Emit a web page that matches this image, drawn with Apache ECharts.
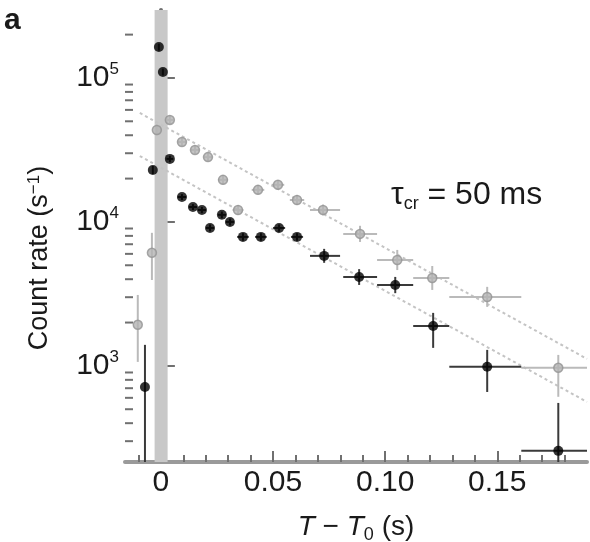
<!DOCTYPE html>
<html>
<head>
<meta charset="utf-8">
<script src="https://cdn.jsdelivr.net/npm/echarts@6/dist/echarts.min.js"></script>
<style>
html, body { margin: 0; padding: 0; background: #fff; }
#main { width: 590px; height: 542px; }
</style>
</head>
<body>
<div id="main"></div>
<script>
// T - T0 (s) and count rate (s^-1)
const blackPts = [
    [-0.0071, 714], [-0.0036, 22970], [-0.0009, 164000], [0.0009, 110000],
    [0.0040, 27400], [0.0094, 14900], [0.0143, 12700], [0.0183, 12100],
    [0.0219, 9080], [0.0272, 11200], [0.0308, 10000], [0.0366, 7870],
    [0.0446, 7870], [0.0527, 9080], [0.0607, 7870], [0.0728, 5810],
    [0.0884, 4150], [0.1045, 3650], [0.1214, 1895], [0.1455, 985],
    [0.1772, 257]
];
// [tLo, tHi, rateLo, rateHi]
const blackErr = [
    [-0.0071, -0.0071, 215, 1400], [-0.0036, -0.0036, 21500, 24500], [-0.0009, -0.0009, 155000, 173000], [0.0009, 0.0009, 104000, 116000],
    [0.0025, 0.0055, 26000, 28800], [0.0075, 0.0113, 14200, 15600], [0.0125, 0.0161, 12100, 13300], [0.0165, 0.0201, 11500, 12700],
    [0.0201, 0.0237, 8600, 9600], [0.0254, 0.0290, 10600, 11800], [0.0290, 0.0326, 9450, 10550], [0.0340, 0.0392, 7400, 8350],
    [0.0420, 0.0472, 7400, 8350], [0.0500, 0.0554, 8550, 9600], [0.0580, 0.0634, 7400, 8350], [0.0665, 0.0799, 5200, 6500],
    [0.0813, 0.0964, 3650, 4700], [0.0964, 0.1125, 3200, 4150], [0.1125, 0.1286, 1334, 2335], [0.1286, 0.1607, 659, 1292],
    [0.1607, 0.1900, 215, 553]
];

const grayPts = [
    [-0.0103, 1930], [-0.0040, 6100], [-0.0018, 43500], [0.0040, 51100],
    [0.0094, 35900], [0.0152, 31600], [0.0210, 28200], [0.0277, 19600],
    [0.0344, 12100], [0.0433, 16700], [0.0522, 18100], [0.0607, 14200],
    [0.0723, 12100], [0.0888, 8260], [0.1054, 5440], [0.1210, 4080],
    [0.1455, 3010], [0.1772, 970]
];
const grayErr = [
    [-0.0103, -0.0103, 1066, 3110], [-0.0040, -0.0040, 3950, 8400], [-0.0018, -0.0018, 40000, 47500], [0.0025, 0.0055, 47500, 55000],
    [0.0075, 0.0113, 33500, 38500], [0.0133, 0.0171, 29500, 34000], [0.0191, 0.0229, 26300, 30300], [0.0255, 0.0299, 18200, 21100],
    [0.0320, 0.0368, 11200, 13100], [0.0405, 0.0461, 15500, 18000], [0.0494, 0.0550, 16800, 19500], [0.0575, 0.0639, 13100, 15400],
    [0.0665, 0.0799, 11100, 13200], [0.0813, 0.0964, 7260, 9400], [0.0964, 0.1125, 4630, 6390], [0.1125, 0.1286, 3370, 4940],
    [0.1286, 0.1607, 2570, 3540], [0.1607, 0.1900, 610, 1192]
];

// dotted fits, tau_cr = 50 ms
const upperFit = [[-0.0094, 57100], [0.19, 1119]];
const lowerFit = [[-0.0094, 28700], [0.19, 562]];

// grey band at T = T0
const bandRange = [-0.0028, 0.0030];

const xMin = -0.016, xMax = 0.19;
const yMin = 215, yMax = 296500;
const xMajorTicks = [0, 0.05, 0.10, 0.15];
const xMinorTicks = [-0.01, 0.01, 0.02, 0.03, 0.04, 0.06, 0.07, 0.08, 0.09,
    0.11, 0.12, 0.13, 0.14, 0.16, 0.17, 0.18];
const yMinorTicks = [300, 400, 500, 600, 700, 800, 900,
    2000, 3000, 4000, 5000, 6000, 7000, 8000, 9000,
    20000, 30000, 40000, 50000, 60000, 70000, 80000, 90000, 200000];

const FONT = 'Liberation Sans';
const AXIS = '#707070';
const TEXT = '#1a1a1a';

function errorBars(color) {
    return function (params, api) {
        const c = api.coord([api.value(0), api.value(1)]);
        const l = api.coord([api.value(2), api.value(1)]);
        const r = api.coord([api.value(3), api.value(1)]);
        const lo = api.coord([api.value(0), api.value(4)]);
        const hi = api.coord([api.value(0), api.value(5)]);
        const style = {stroke: color, lineWidth: 2};
        return {
            type: 'group',
            children: [
                {type: 'line', shape: {x1: l[0], y1: c[1], x2: r[0], y2: c[1]}, style: style},
                {type: 'line', shape: {x1: c[0], y1: hi[1], x2: c[0], y2: lo[1]}, style: style}
            ]
        };
    };
}

const chart = echarts.init(document.getElementById('main'));

const option = {
    animation: false,
    backgroundColor: '#fff',
    grid: {left: 125, right: 3, top: 10, bottom: 80, outerBoundsMode: 'none'},
    xAxis: [{
        type: 'value', min: xMin, max: xMax,
        axisLine: {show: true, onZero: false, lineStyle: {color: '#9a9a9a', width: 4}},
        axisTick: {show: true, inside: true, length: 11, customValues: xMajorTicks, lineStyle: {color: AXIS, width: 2}},
        axisLabel: {
            customValues: xMajorTicks, margin: 6, color: TEXT, fontFamily: FONT, fontSize: 30,
            formatter: v => v === 0 ? '0' : v.toFixed(2)
        },
        splitLine: {show: false},
        name: '{i|T} − {i|T}{sub|0} (s)',
        nameLocation: 'middle', nameGap: 48,
        nameTextStyle: {
            color: TEXT, fontFamily: FONT, fontSize: 28,
            rich: {
                i: {fontStyle: 'italic', fontSize: 28, fontFamily: FONT, color: TEXT},
                sub: {fontSize: 18, fontFamily: FONT, color: TEXT, verticalAlign: 'bottom', lineHeight: 34}
            }
        }
    }, {
        type: 'value', min: xMin, max: xMax, position: 'bottom',
        axisLine: {show: false},
        axisTick: {show: true, inside: true, length: 7, customValues: xMinorTicks, lineStyle: {color: AXIS, width: 2}},
        axisLabel: {show: false},
        splitLine: {show: false}
    }],
    yAxis: {
        type: 'log', logBase: 10, min: yMin, max: yMax,
        axisLine: {show: true, lineStyle: {color: AXIS, width: 4}},
        axisTick: {show: true, inside: true, length: 14, lineStyle: {color: AXIS, width: 2}},
        axisLabel: {
            showMinLabel: false, showMaxLabel: false, margin: 6,
            formatter: v => '{b|10}{s|' + Math.round(Math.log10(v)) + '}',
            rich: {
                b: {fontSize: 30, fontFamily: FONT, color: TEXT, lineHeight: 34},
                s: {fontSize: 17, fontFamily: FONT, color: TEXT, verticalAlign: 'top', lineHeight: 17}
            }
        },
        splitLine: {show: false},
        name: 'Count rate (s{sup|−1})',
        nameLocation: 'middle', nameRotate: 90, nameGap: 72,
        nameTextStyle: {
            color: TEXT, fontFamily: FONT, fontSize: 27,
            padding: [0, 44, 0, 0],
            rich: {
                sup: {fontSize: 17, fontFamily: FONT, color: TEXT, verticalAlign: 'top', lineHeight: 17}
            }
        }
    },
    graphic: [
        {type: 'text', left: 4, top: 6, style: {text: 'a', font: 'bold 30px "Liberation Sans"', fill: TEXT}},
        {
            type: 'text', left: 391, top: 179,
            style: {
                text: '{t|τ}{c|cr} = 50 ms',
                font: '32px "Liberation Sans"', fill: TEXT,
                rich: {
                    t: {fontSize: 32, fontFamily: FONT, fill: TEXT, lineHeight: 36},
                    c: {fontSize: 18, fontFamily: FONT, fill: TEXT, verticalAlign: 'bottom', lineHeight: 31}
                }
            }
        }
    ],
    series: [
        {
            type: 'line', data: upperFit, symbol: 'none', silent: true, z: 1,
            lineStyle: {color: '#c4c4c4', width: 2, type: [3, 3]},
            markArea: {
                silent: true,
                itemStyle: {color: '#c8c8c8'},
                data: [[{xAxis: bandRange[0], yAxis: yMin}, {xAxis: bandRange[1], yAxis: yMax}]]
            }
        },
        {
            type: 'line', data: lowerFit, symbol: 'none', silent: true, z: 1,
            lineStyle: {color: '#c4c4c4', width: 2, type: [3, 3]}
        },
        {
            type: 'custom', z: 2,
            renderItem: (params, api) => {
                const p = api.coord([xMin, api.value(1)]);
                return {type: 'line', shape: {x1: p[0], y1: p[1], x2: p[0] + 8, y2: p[1]}, style: {stroke: AXIS, lineWidth: 2}};
            },
            encode: {x: 0, y: 1},
            data: yMinorTicks.map(v => [xMin, v])
        },
        {
            type: 'custom', z: 3,
            renderItem: errorBars('#bababa'),
            encode: {x: [0, 2, 3], y: [1, 4, 5]},
            data: grayPts.map((p, i) => p.concat(grayErr[i]))
        },
        {
            type: 'scatter', data: grayPts, z: 4,
            symbol: 'circle', symbolSize: 9,
            itemStyle: {color: '#b4b4b4', borderColor: '#939393', borderWidth: 1.5}
        },
        {
            type: 'custom', z: 5,
            renderItem: errorBars('#3a3a3a'),
            encode: {x: [0, 2, 3], y: [1, 4, 5]},
            data: blackPts.map((p, i) => p.concat(blackErr[i]))
        },
        {
            type: 'scatter', data: blackPts, z: 6,
            symbol: 'circle', symbolSize: 10,
            itemStyle: {color: '#000'}
        }
    ]
};

chart.setOption(option);
</script>
</body>
</html>
